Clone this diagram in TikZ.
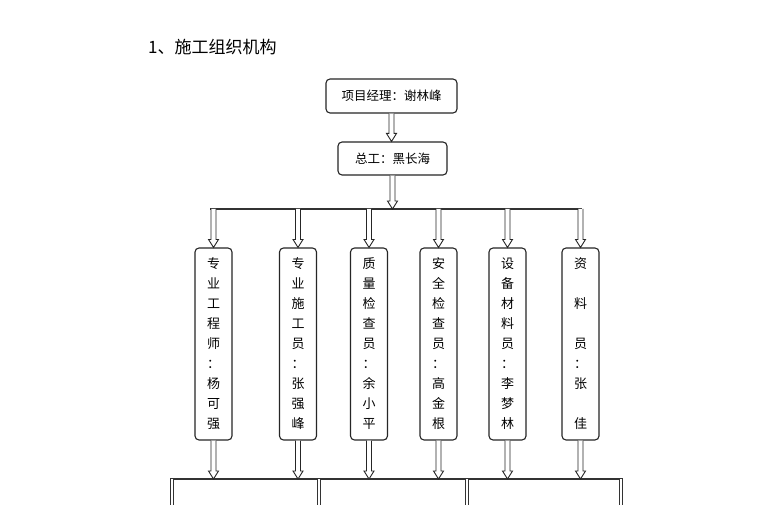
\documentclass[tikz,border=0pt]{standalone}
\usepackage{fontspec}
\setmainfont{Noto Sans CJK SC}
\usetikzlibrary{calc}
\tikzset{
  box/.style={draw=black!85, line width=1.1pt, rounded corners=4pt, inner sep=0pt, font=\fontsize{12.5}{15}\selectfont},
  vbox/.style={box, minimum width=37pt, minimum height=192pt, align=center, font=\fontsize{13}{20}\selectfont},
  arr/.style={draw=black!85, line width=0.9pt, fill=white},
  bus/.style={draw=black!80, line width=1.3pt},
  bar/.style={draw=black!80, double=white, double distance=2.6pt, line width=0.8pt}
}
\newcommand\hollowarr[2]{\draw[arr] let \p1=(#1), \p2=(#2) in (\x1-2.5pt,\y1) -- (\x1-2.5pt,\y2+8pt) -- (\x1-5pt,\y2+8pt) -- (\x1,\y2) -- (\x1+5pt,\y2+8pt) -- (\x1+2.5pt,\y2+8pt) -- (\x1+2.5pt,\y1);}
\begin{document}
\begin{tikzpicture}[x=1pt,y=-1pt]
\fill[white] (0,0) rectangle (760,505);
\useasboundingbox (0,0) rectangle (760,505);
\node[anchor=west, inner sep=0pt, font=\fontsize{17}{19}\selectfont] (title) at (148,47) {1、施工组织机构};
\node[box, minimum width=131pt, minimum height=34pt] (pm) at (391.5,96) {项目经理：谢林峰};
\node[box, minimum width=109pt, minimum height=33pt] (ce) at (392.5,158.5) {总工：黑长海};
\coordinate (hl) at (210,209);
\coordinate (hr) at (582,209);
\coordinate (bl) at (170,479);
\coordinate (br) at (623,479);
\node[vbox] (v1) at (213.5,344) {专\\业\\工\\程\\师\\：\\杨\\可\\强};
\node[vbox] (v2) at (298,344) {专\\业\\施\\工\\员\\：\\张\\强\\峰};
\node[vbox] (v3) at (369,344) {质\\量\\检\\查\\员\\：\\余\\小\\平};
\node[vbox] (v4) at (438.5,344) {安\\全\\检\\查\\员\\：\\高\\金\\根};
\node[vbox] (v5) at (507.5,344) {设\\备\\材\\料\\员\\：\\李\\梦\\林};
\node[vbox] (v6) at (580.5,344) {资\\\mbox{}\\料\\\mbox{}\\员\\：\\张\\\mbox{}\\佳};
\draw[bus] (hl) -- (hr);
\draw[bus] (bl) -- (br);
\hollowarr{pm.south}{ce.north}
\hollowarr{ce.south}{ce.south |- hl}
\foreach \v in {v1,v2,v3,v4,v5,v6}{
  \hollowarr{\v.north |- hl}{\v.north}
  \hollowarr{\v.south}{\v.south |- bl}
}
\coordinate (b1) at (172,479); \coordinate (e1) at (172,505);
\coordinate (b2) at (319,479); \coordinate (e2) at (319,505);
\coordinate (b3) at (467,479); \coordinate (e3) at (467,505);
\coordinate (b4) at (621,479); \coordinate (e4) at (621,505);
\foreach \i in {1,2,3,4}{\draw[bar] (b\i) -- (e\i);}
\end{tikzpicture}
\end{document}
